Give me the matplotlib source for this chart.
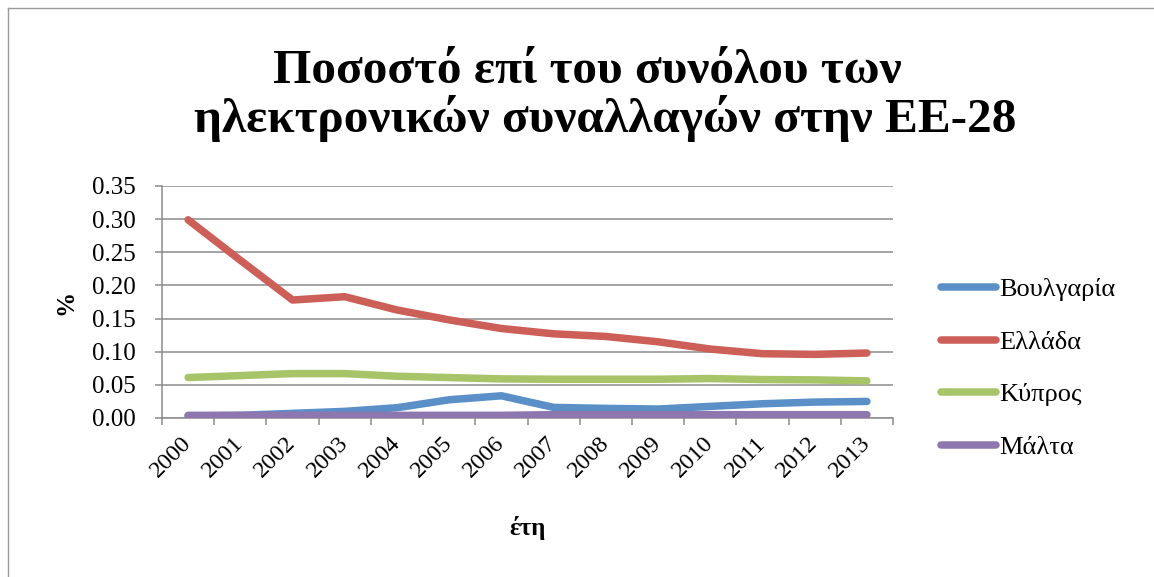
import matplotlib
matplotlib.use('Agg')
import matplotlib.pyplot as plt
from matplotlib.lines import Line2D

years = ['2000', '2001', '2002', '2003', '2004', '2005', '2006',
         '2007', '2008', '2009', '2010', '2011', '2012', '2013']
bulgaria = [0.003, 0.004, 0.007, 0.010, 0.0155, 0.0275, 0.0335,
            0.016, 0.0145, 0.0135, 0.0175, 0.0215, 0.024, 0.025]
greece = [0.299, 0.238, 0.178, 0.183, 0.163, 0.148, 0.135,
          0.127, 0.123, 0.115, 0.104, 0.097, 0.096, 0.098]
cyprus = [0.061, 0.064, 0.067, 0.067, 0.063, 0.061, 0.059,
          0.0585, 0.0585, 0.0585, 0.0595, 0.058, 0.0575, 0.056]
malta = [0.004, 0.004, 0.004, 0.004, 0.004, 0.004, 0.004,
         0.005, 0.005, 0.005, 0.005, 0.005, 0.005, 0.005]
series_names = ['Βουλγαρία', 'Ελλάδα', 'Κύπρος', 'Μάλτα']
yticks = [0.00, 0.05, 0.10, 0.15, 0.20, 0.25, 0.30, 0.35]
title_lines = ['Ποσοστό επί του συνόλου των', 'ηλεκτρονικών συναλλαγών στην ΕΕ-28']
xlabel = 'έτη'
ylabel = '%'

colors = ['#5A8FC7', '#CC5F58', '#A8C468', '#8E76AF']
FONT = ['Liberation Serif', 'DejaVu Serif']
plt.rcParams['font.family'] = FONT

W, H = 1154, 577
fig = plt.figure(figsize=(W / 100, H / 100), dpi=100)
fig.patch.set_facecolor('white')

# chart border (left and top visible)
fig.add_artist(Line2D([8 / W, 8 / W], [0, 1 - 8 / H], color='#9a9a9a', lw=1.0,
                      transform=fig.transFigure))
fig.add_artist(Line2D([8 / W, 1], [1 - 8 / H, 1 - 8 / H], color='#9a9a9a', lw=1.0,
                      transform=fig.transFigure))

left, right, top, bottom = 162, 893, 186, 418
ax = fig.add_axes([left / W, 1 - bottom / H, (right - left) / W, (bottom - top) / H])

x = list(range(len(years)))
data = [bulgaria, greece, cyprus, malta]
for vals, c, name in zip(data, colors, series_names):
    ax.plot(x, vals, color=c, lw=5.4, solid_capstyle='round',
            solid_joinstyle='round', label=name, zorder=3)

grid_c = '#8c8c8c'
ax.set_xlim(-0.5, len(years) - 0.5)
ax.set_ylim(0, 0.35)
ax.set_yticks(yticks)
ax.set_yticklabels([f'{v:.2f}' for v in yticks])
ax.yaxis.grid(True, color=grid_c, lw=1.1)
ax.set_axisbelow(True)
for s in ['top', 'right']:
    ax.spines[s].set_visible(False)
for s in ['left', 'bottom']:
    ax.spines[s].set_color(grid_c)
    ax.spines[s].set_linewidth(1.1)

ax.tick_params(axis='y', direction='out', length=5, width=1.1, color=grid_c,
               labelsize=18, pad=14)
ax.set_xticks(x)
ax.set_xticklabels(years, rotation=45, ha='right', va='center',
                   rotation_mode='anchor')
ax.set_xticks([i - 0.5 for i in range(len(years) + 1)], minor=True)
ax.tick_params(axis='x', which='major', length=0, labelsize=17.5, pad=16)
ax.tick_params(axis='x', which='minor', direction='out', length=5, width=1.1,
               color=grid_c)

ax.set_xlabel(xlabel, fontsize=18, fontweight='bold')
ax.xaxis.set_label_coords(0.5, (bottom - 528) / (bottom - top))
ax.xaxis.label.set_va('center')
ax.set_ylabel(ylabel, fontsize=18, fontweight='bold')
ax.yaxis.set_label_coords((66 - left) / (right - left), 0.5)
ax.yaxis.label.set_va('center')

fig.text(587 / W, 1 - 83 / H, title_lines[0], ha='center', va='baseline',
         fontsize=35.5, fontweight='bold')
fig.text(605 / W, 1 - 132 / H, title_lines[1], ha='center', va='baseline',
         fontsize=35.5, fontweight='bold')

leg = ax.legend(loc='center left', bbox_to_anchor=(941 / W, 1 - 368.5 / H),
                bbox_transform=fig.transFigure, frameon=False, fontsize=19,
                handlelength=2.1, handletextpad=0.12, labelspacing=1.1,
                borderpad=0, borderaxespad=0)

fig.savefig('out.png', dpi=100, facecolor='white')
